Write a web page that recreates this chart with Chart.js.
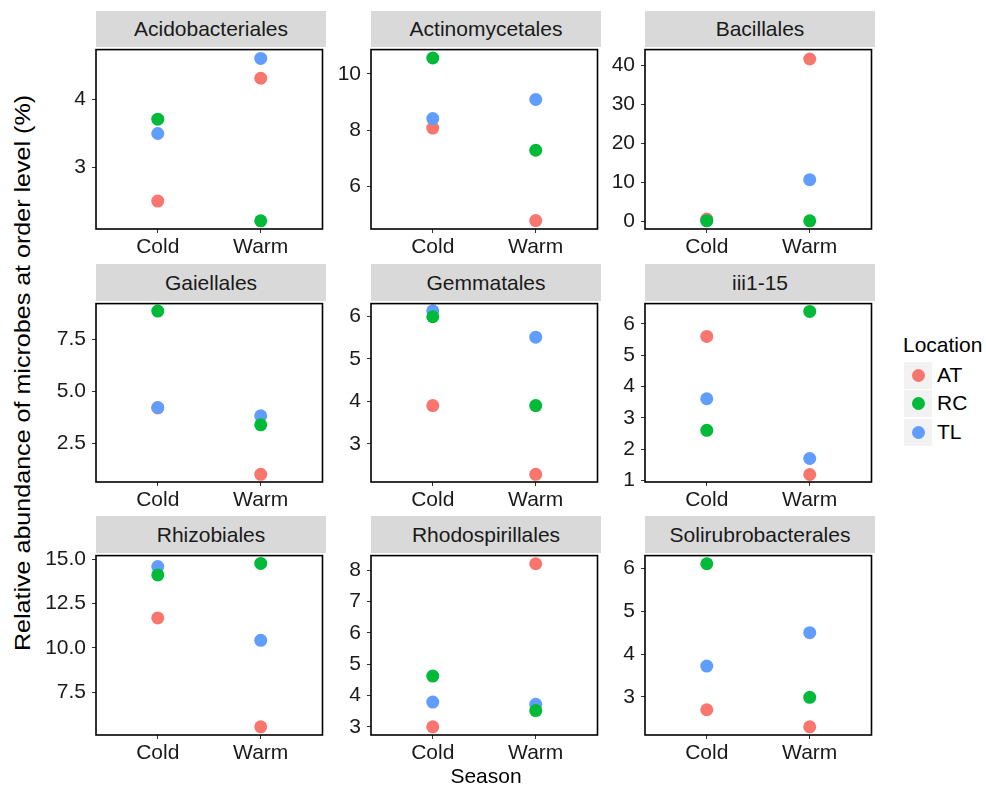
<!DOCTYPE html>
<html><head><meta charset="utf-8">
<script src="https://cdn.jsdelivr.net/npm/chart.js@4"></script>
<style>
body{margin:0;background:#fff;width:986px;height:789px;position:relative;overflow:hidden;font-family:"Liberation Sans",Arial,sans-serif;}
.strip{position:absolute;background:#d9d9d9;color:#1a1a1a;font-size:21px;text-align:center;}
canvas{position:absolute;}
.ytitle{position:absolute;left:23px;top:373px;transform:translate(-50%,-50%) rotate(-90deg) scaleX(1.14);white-space:nowrap;font-size:22px;color:#000;}
.xtitle{position:absolute;left:486px;top:776px;transform:translate(-50%,-50%);font-size:21px;color:#000;}
.legtitle{position:absolute;left:903px;top:345px;transform:translateY(-50%);font-size:21px;color:#000;}
.key{position:absolute;left:904px;width:28px;height:27px;background:#f2f2f2;}
.key span{position:absolute;left:7.5px;top:7px;width:13px;height:13px;border-radius:50%;}
.klab{position:absolute;left:937px;font-size:21px;color:#000;transform:translateY(-50%);}
</style></head><body>
<script>
const panelNames = ['Acidobacteriales','Actinomycetales','Bacillales','Gaiellales','Gemmatales','iii1-15','Rhizobiales','Rhodospirillales','Solirubrobacterales'];
const seasons = ['Cold','Warm'];
const locations = ['AT','RC','TL'];
const locationColors = ['#F8766D','#00BA38','#619CFF'];
// values per panel: [Cold, Warm]
const valuesAT = [[2.51,4.31],[8.07,4.77],[0.6,41.6],[4.2,1.02],[3.90,2.28],[5.60,1.19],[11.69,5.56],[3.0,8.2],[2.70,2.30]];
const valuesRC = [[3.71,2.22],[10.57,7.28],[0.2,0.15],[8.84,3.39],[5.99,3.90],[2.60,6.40],[14.11,14.76],[4.62,3.52],[6.11,2.99]];
const valuesTL = [[3.50,4.60],[8.41,9.09],[0.2,10.7],[4.22,3.82],[6.13,5.51],[3.61,1.70],[14.58,10.43],[3.79,3.72],[3.72,4.50]];
const yTicks = [[3,4],[6,8,10],[0,10,20,30,40],[2.5,5.0,7.5],[3,4,5,6],[1,2,3,4,5,6],[7.5,10.0,12.5,15.0],[3,4,5,6,7,8],[3,4,5,6]];
const yTickDecimals = [0,0,0,1,0,0,1,0,0];
const yLimits = [[2.10,4.73],[4.47,10.87],[-1.94,44.0],[0.65,9.2],[2.1,6.3],[0.95,6.65],[5.1,15.2],[2.74,8.46],[2.11,6.3]];

const series = [valuesAT, valuesRC, valuesTL];
const drawOrder = [2,0,1]; // RC on top, then TL, then AT
const FONT = '"Liberation Sans", Arial, sans-serif';
const colLeft = [96, 371, 645];
const plotW = 230;
const rowStrip = [[11,47],[264,301],[516,553]];
const rowPlot = [[47,229],[301,482],[553,735]];
const YW = 60, XH = 40, PT = 16, PR = 3;

const borderPlugin = {
  id:'panelBorder',
  afterDraw(chart){
    const {ctx, chartArea:a} = chart;
    ctx.save();
    ctx.strokeStyle = '#000';
    ctx.lineWidth = 1.6;
    ctx.strokeRect(a.left, a.top, a.right - a.left, a.bottom - a.top);
    ctx.restore();
  }
};

panelNames.forEach((name, p) => {
  const r = Math.floor(p / 3), c = p % 3;
  const strip = document.createElement('div');
  strip.className = 'strip';
  strip.style.left = colLeft[c] + 'px';
  strip.style.width = plotW + 'px';
  strip.style.top = rowStrip[r][0] + 'px';
  strip.style.height = (rowStrip[r][1] - rowStrip[r][0]) + 'px';
  strip.style.lineHeight = (rowStrip[r][1] - rowStrip[r][0]) + 'px';
  strip.textContent = name;
  document.body.appendChild(strip);

  const plotH = rowPlot[r][1] - rowPlot[r][0];
  const cv = document.createElement('canvas');
  const W = YW + plotW + PR, H = PT + plotH + XH;
  cv.width = W; cv.height = H;
  cv.style.width = W + 'px'; cv.style.height = H + 'px';
  cv.style.left = (colLeft[c] - YW) + 'px';
  cv.style.top = (rowPlot[r][0] - PT) + 'px';
  document.body.appendChild(cv);

  new Chart(cv, {
    type: 'scatter',
    data: {
      datasets: locations.map((loc, li) => ({
        label: loc,
        data: seasons.map((s, si) => ({x: si, y: series[li][p][si]})),
        backgroundColor: locationColors[li],
        borderWidth: 0,
        pointRadius: 6.5,
        pointHoverRadius: 6.5,
        order: drawOrder[li]
      }))
    },
    options: {
      responsive: false, animation: false, devicePixelRatio: 1,
      layout: {padding: {top: PT, right: PR, left: 0, bottom: 0}},
      plugins: {legend: {display: false}, tooltip: {enabled: false}},
      scales: {
        x: {
          type: 'linear', min: -0.6, max: 1.6,
          afterBuildTicks: s => { s.ticks = seasons.map((_, i) => ({value: i})); },
          afterFit: s => { s.height = XH; },
          ticks: {callback: v => seasons[v], color: '#1a1a1a', font: {size: 21, family: FONT}, padding: 2, maxRotation: 0, autoSkip: false},
          grid: {drawOnChartArea: false, drawTicks: true, tickLength: 4, color: '#333', lineWidth: 1},
          border: {display: false}
        },
        y: {
          min: yLimits[p][0], max: yLimits[p][1],
          afterBuildTicks: s => { s.ticks = yTicks[p].map(v => ({value: v})); },
          afterFit: s => { s.width = YW; },
          ticks: {callback: v => Number(v).toFixed(yTickDecimals[p]), color: '#1a1a1a', font: {size: 21, family: FONT}, padding: 6, autoSkip: false},
          grid: {drawOnChartArea: false, drawTicks: true, tickLength: 4, color: '#333', lineWidth: 1},
          border: {display: false}
        }
      }
    },
    plugins: [borderPlugin]
  });
});

// axis titles and legend
const yt = document.createElement('div'); yt.className = 'ytitle';
yt.textContent = 'Relative abundance of microbes at order level (%)'; document.body.appendChild(yt);
const xt = document.createElement('div'); xt.className = 'xtitle'; xt.textContent = 'Season'; document.body.appendChild(xt);
const lt = document.createElement('div'); lt.className = 'legtitle'; lt.textContent = 'Location'; document.body.appendChild(lt);
const keyCenters = [375, 403, 432];
locations.forEach((loc, li) => {
  const k = document.createElement('div'); k.className = 'key';
  k.style.top = (keyCenters[li] - 13.5) + 'px';
  const dot = document.createElement('span'); dot.style.background = locationColors[li];
  k.appendChild(dot); document.body.appendChild(k);
  const lab = document.createElement('div'); lab.className = 'klab';
  lab.style.top = keyCenters[li] + 'px'; lab.textContent = loc; document.body.appendChild(lab);
});
</script>
</body></html>
